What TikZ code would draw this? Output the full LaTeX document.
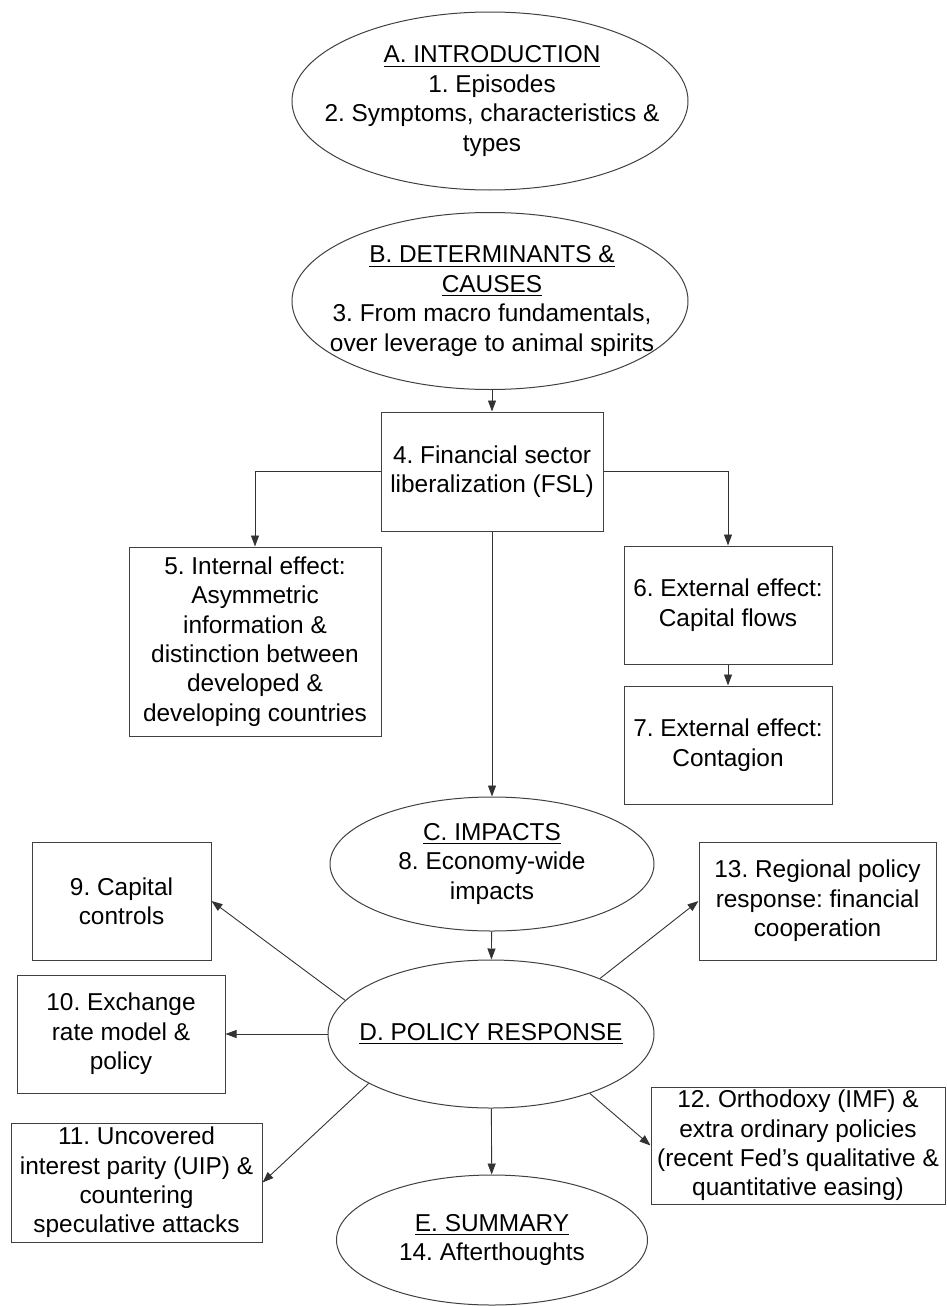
\documentclass[tikz,border=0pt]{standalone}
\usepackage{fontspec}
\setmainfont{Liberation Sans}
\usetikzlibrary{shapes.geometric,arrows.meta}
\frenchspacing
\begin{document}
\begin{tikzpicture}[x=0.5pt,y=-0.5pt,
  font=\fontsize{12.2}{14.7}\selectfont,
  oval/.style={draw=black!75, line width=0.5pt, ellipse, inner sep=0pt},
  box/.style={draw=black!75, line width=0.5pt, rectangle, align=center, inner sep=0pt},
  txt/.style={align=center, inner sep=0pt},
  arr/.style={draw=black!80, line width=0.45pt, -{Triangle[length=5.5pt,width=4pt]}}]
\useasboundingbox (0,0) rectangle (947,1306);
% main sections
\node[oval, minimum width=198pt, minimum height=89pt] (intro) at (490,101) {};
\node[txt] at (492,101) {\underline{A. INTRODUCTION}\\1. Episodes\\2. Symptoms, characteristics \&\\types};
\node[oval, minimum width=198pt, minimum height=88.5pt] (causes) at (490,301) {};
\node[txt] at (492,301) {\underline{B. DETERMINANTS \&}\\\underline{CAUSES}\\3. From macro fundamentals,\\over leverage to animal spirits};
\node[oval, minimum width=162pt, minimum height=67pt] (impacts) at (492,864) {};
\node[txt] at (impacts) {\underline{C. IMPACTS}\\8. Economy-wide\\impacts};
\node[oval, minimum width=163pt, minimum height=74pt] (policy) at (491,1034) {};
\node[txt] at (policy) {\underline{D. POLICY RESPONSE}};
\node[oval, minimum width=155.5pt, minimum height=65pt] (summary) at (492,1240) {};
\node[txt] at (summary) {\underline{E. SUMMARY}\\14. Afterthoughts};
% chapters
\node[box, minimum width=111pt, minimum height=59.5pt] (fsl) at (492,471.5) {4. Financial sector\\liberalization (FSL)};
\node[box, minimum width=126pt, minimum height=94.5pt] (internal) at (255,641.5) {5. Internal effect:\\Asymmetric\\information \&\\distinction between\\developed \&\\developing countries};
\node[box, minimum width=104pt, minimum height=59pt] (capflows) at (728,605) {6. External effect:\\Capital flows};
\node[box, minimum width=104pt, minimum height=59pt] (contagion) at (728,745) {7. External effect:\\Contagion};
\node[box, minimum width=89.5pt, minimum height=59pt] (capctrl) at (121.5,901) {9. Capital\\controls};
\node[box, minimum width=104pt, minimum height=59pt] (exrate) at (121,1034) {10. Exchange\\rate model \&\\policy};
\node[box, minimum width=125.5pt, minimum height=59.5pt] (uip) at (136.5,1182.5) {11. Uncovered\\interest parity (UIP) \&\\countering\\speculative attacks};
\node[box, minimum width=147pt, minimum height=58.5pt] (orthodoxy) at (798,1145.5) {12. Orthodoxy (IMF) \&\\extra ordinary policies\\(recent Fed’s qualitative \&\\quantitative easing)};
\node[box, minimum width=118.5pt, minimum height=59pt] (regional) at (817.5,901) {13. Regional policy\\response: financial\\cooperation};
% connectors
\draw[arr] (causes.south -| fsl) -- (fsl);
\draw[arr] (fsl.west) -| (internal);
\draw[arr] (fsl.east) -| (capflows);
\draw[arr] (capflows) -- (contagion);
\draw[arr] (fsl) -- (impacts);
\draw[arr] (impacts) -- (policy);
\draw[arr] (policy.167) -- (capctrl.east);
\draw[arr] (policy) -- (exrate);
\draw[arr] (policy.202) -- (uip.east);
\draw[arr] (policy) -- (summary);
\draw[arr] (policy.-31) -- (orthodoxy.west);
\draw[arr] (policy.27) -- (regional.west);
\end{tikzpicture}
\end{document}
